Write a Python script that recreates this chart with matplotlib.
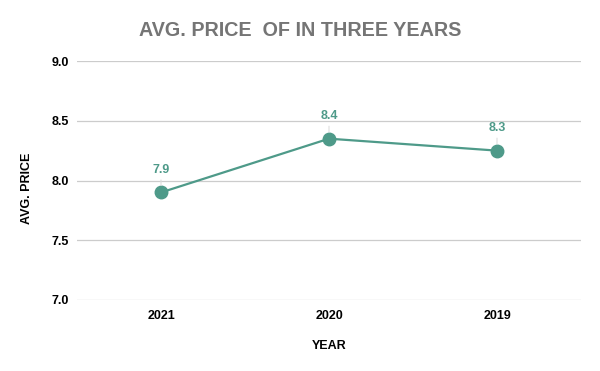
import matplotlib
matplotlib.use("Agg")
import matplotlib.pyplot as plt

years = ["2021", "2020", "2019"]
avg_price = [7.9, 8.35, 8.25]
point_labels = ["7.9", "8.4", "8.3"]
y_ticks = [7.0, 7.5, 8.0, 8.5, 9.0]

plt.rcParams['font.family'] = ['Liberation Sans', 'DejaVu Sans']
color = '#4e9a89'

fig = plt.figure(figsize=(6, 3.71), dpi=100)
ax = fig.add_axes([77/600, 1-300/371, 504/600, 239/371])
x = list(range(len(years)))
ax.plot(x, avg_price, color=color, lw=1.6, marker='o', ms=9, zorder=3)
for xi, yi, lab in zip(x, avg_price, point_labels):
    ax.annotate(lab, (xi, yi), xytext=(0, 12), textcoords='offset points',
                ha='center', va='bottom', color=color, fontsize=9, fontweight='bold',
                arrowprops=dict(arrowstyle='-', color='#dddddd', lw=0.8, shrinkA=1, shrinkB=5))
ax.set_xlim(-0.5, 2.5)
ax.set_ylim(7.0, 9.0)
ax.set_yticks(y_ticks)
ax.set_yticklabels([f"{v:.1f}" for v in y_ticks])
ax.set_xticks(x)
ax.set_xticklabels(years)
ax.grid(axis='y', color='#cccccc', lw=0.9)
ax.set_axisbelow(True)
for s in ax.spines.values():
    s.set_visible(False)
ax.tick_params(axis='x', length=0, labelsize=9, pad=7)
ax.tick_params(axis='y', length=0, labelsize=9, pad=6)
for t in ax.get_xticklabels() + ax.get_yticklabels():
    t.set_fontweight('bold')
ax.set_xlabel("YEAR", fontsize=9, fontweight='bold', labelpad=13)
ax.set_ylabel("AVG. PRICE", fontsize=9, fontweight='bold', va='center')
ax.yaxis.set_label_coords(-0.099, 0.469)
fig.text(0.5, 1-31/371, "AVG. PRICE  OF IN THREE YEARS", ha='center', va='center',
         fontsize=14.2, fontweight='bold', color='#757575')
fig.savefig("out.png", dpi=100)
